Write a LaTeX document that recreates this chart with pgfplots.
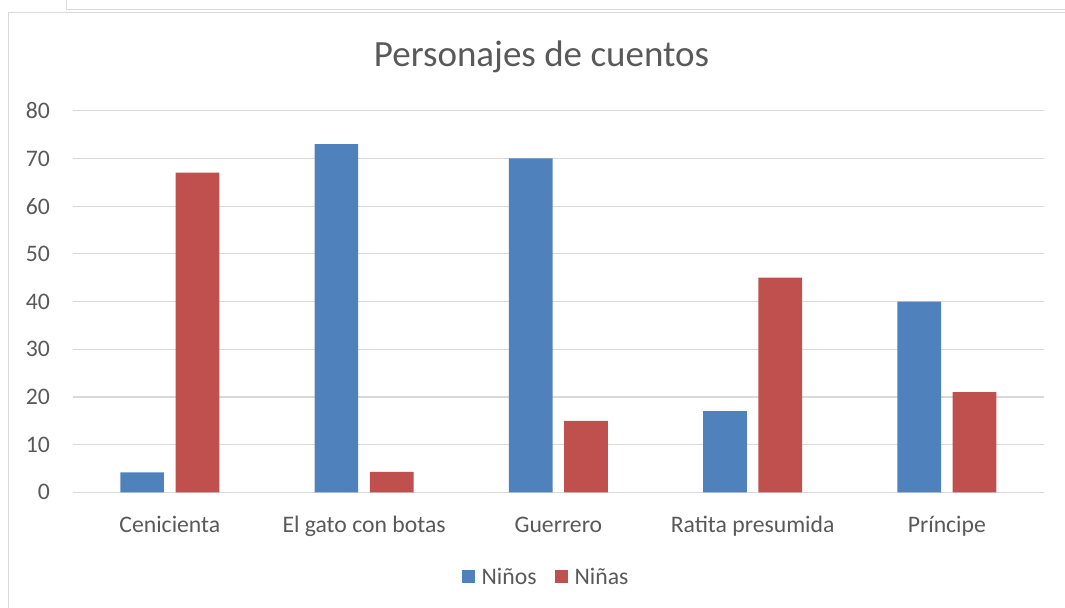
\documentclass[border=0pt]{standalone}
\usepackage{fontspec}
\setmainfont{Carlito}
\usepackage{pgfplots}
\pgfplotsset{compat=1.18}
\usepackage{pgfplotstable}

\definecolor{ninos}{HTML}{4F81BD}
\definecolor{ninas}{HTML}{C0504D}
\definecolor{txt}{HTML}{595959}
\definecolor{gridc}{HTML}{D9D9D9}

% x = categoria (0..4)
\pgfplotstableread{
x  ninos ninas
0  4.2   67
1  73    4.3
2  70    15
3  17    45
4  40    21
}\datos

\begin{document}
\begin{tikzpicture}
\path[use as bounding box] (0,0) rectangle (1065bp,608bp);
% marcos
\draw[gridc, line width=1.2bp] (66.7bp,608bp) -- (66.7bp,598.4bp) -- (1065bp,598.4bp);
\draw[gridc, line width=1.2bp] (8.8bp,0bp) -- (8.8bp,595.4bp) -- (1065bp,595.4bp);
\begin{axis}[
    at={(72.7bp,115.7bp)}, anchor=south west,
    scale only axis,
    width=971.3bp, height=381.6bp,
    ybar=11.7bp, bar width=43.7bp,
    xmin=-0.5, xmax=4.5,
    ymin=0, ymax=80,
    xtick=data,
    xticklabels={Cenicienta, El gato con botas, Guerrero, Ratita presumida, Príncipe},
    ytick={0,10,...,80},
    major tick length=0pt,
    axis line style={draw=none},
    ymajorgrids,
    grid style={gridc, line width=1.2bp},
    /pgf/number format/assume math mode=true,
    tick label style={font=\fontsize{23.7bp}{28bp}\selectfont, text=txt},
    xticklabel style={anchor=base, yshift=-39.7bp, inner sep=0pt},
    yticklabel style={anchor=east, xshift=-22.5bp, inner sep=0pt},
    title={Personajes de cuentos},
    every axis title/.style={font=\fontsize{37bp}{44bp}\selectfont, text=txt,
        at={(0.4827,1.1153)}, anchor=base, inner sep=0pt},
    legend columns=2,
    legend style={draw=none, fill=none, inner sep=0pt,
        font=\fontsize{23.7bp}{28bp}\selectfont, text=txt,
        at={(0.4863,-0.2213)}, anchor=center,
        /tikz/every odd column/.append style={column sep=6.7bp},
        /tikz/every even column/.append style={column sep=18bp},
        nodes={inner sep=0pt}},
    legend image code/.code={\fill (0bp,-6.65bp) rectangle (13.3bp,6.65bp);},
]
\addplot[draw=none, fill=ninos] table[x=x, y=ninos] {\datos};
\addlegendentry{Niños}
\addplot[draw=none, fill=ninas] table[x=x, y=ninas] {\datos};
\addlegendentry{Niñas}
\end{axis}
\end{tikzpicture}
\end{document}
